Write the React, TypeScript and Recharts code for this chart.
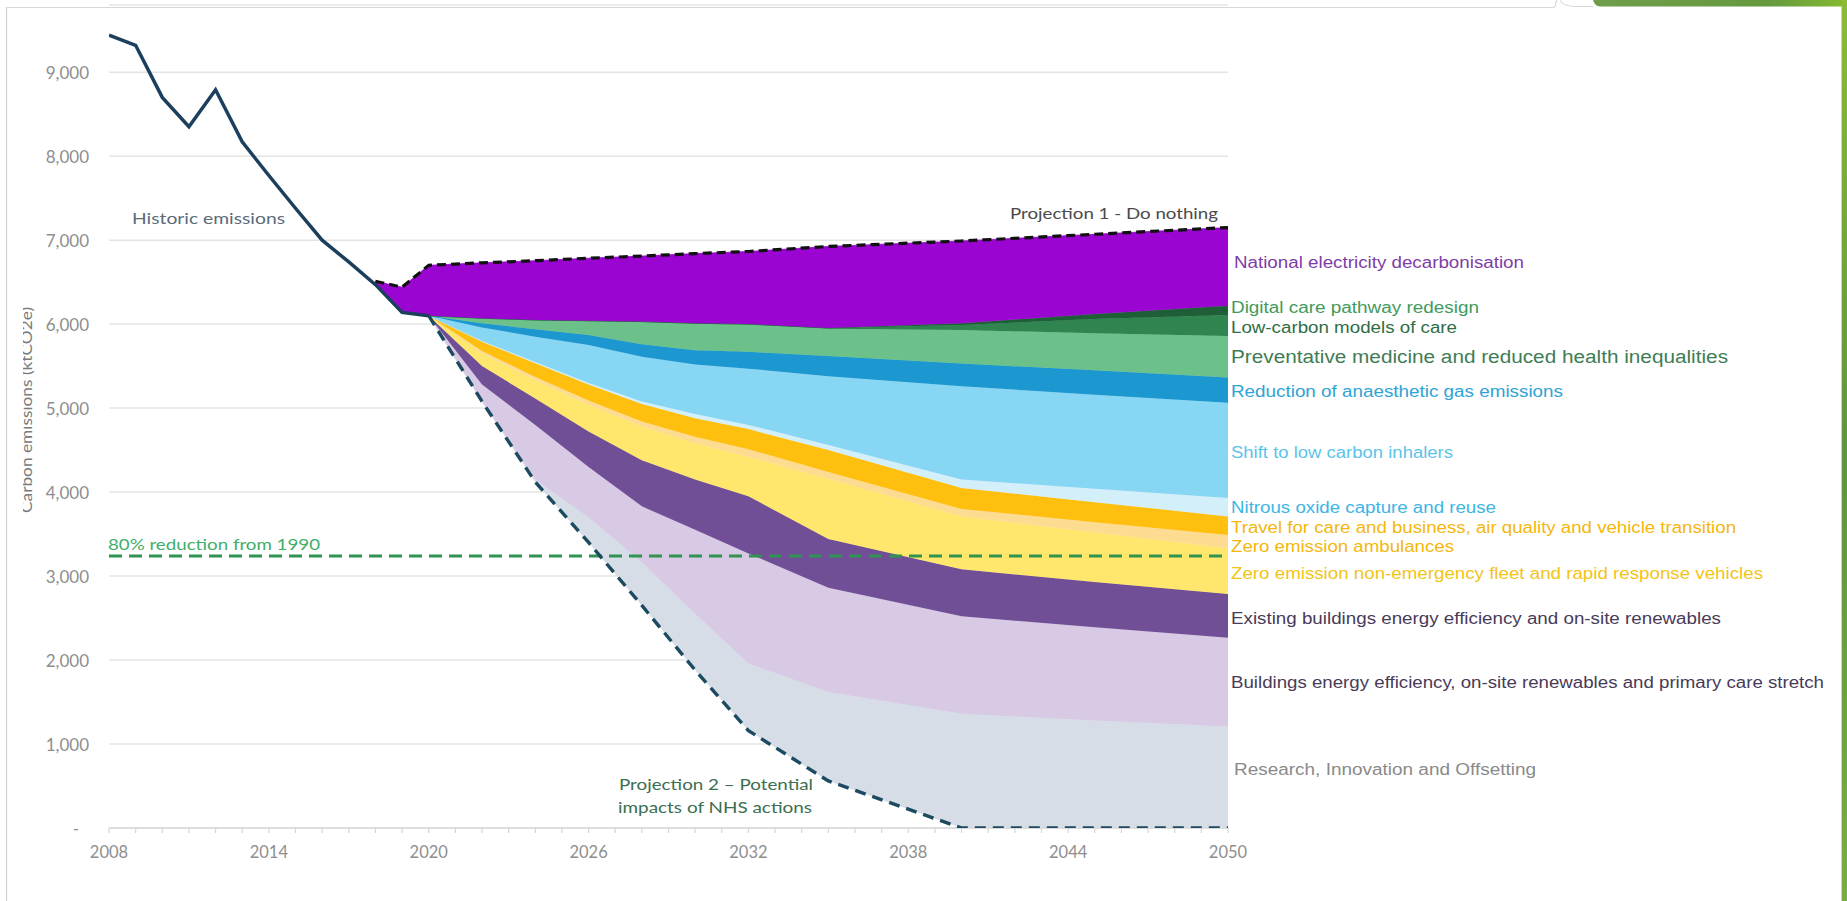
import React from "react";
import {
  ComposedChart,
  Area,
  Line,
  XAxis,
  YAxis,
  CartesianGrid,
  ReferenceLine,
} from "recharts";

// ---------- data (ktCO2e) ----------
const historicYears = [2008, 2009, 2010, 2011, 2012, 2013, 2014, 2015, 2016, 2017, 2018, 2019, 2020];
const historicValues = [9440, 9320, 8700, 8350, 8790, 8170, 7770, 7380, 7000, 6740, 6470, 6140, 6100];

const projYears = [2018, 2019, 2020, 2022, 2024, 2026, 2028, 2030, 2032, 2035, 2040, 2045, 2050];
const projection1 = [6510, 6440, 6700, 6730, 6755, 6785, 6810, 6840, 6865, 6925, 6990, 7070, 7150];
const projection2 = [null, null, 6100, 5080, 4120, 3400, 2650, 1880, 1160, 560, 0, 0, 0];
const stackBase = [6470, 6140, 6100, 5080, 4120, 3400, 2650, 1880, 1160, 560, 0, 0, 0];

const research = [0, 0, 0, 0, 30, 300, 510, 670, 800, 1060, 1360, 1280, 1210];
const buildingsStretch = [0, 0, 0, 200, 650, 600, 670, 1000, 1310, 1240, 1160, 1110, 1055];
const existingBuildings = [0, 0, 0, 220, 315, 420, 550, 600, 680, 580, 560, 540, 520];
const zeFleet = [0, 0, 0, 150, 215, 320, 400, 430, 470, 715, 630, 590, 545];
const zeAmbulances = [0, 0, 0, 30, 40, 50, 60, 80, 90, 85, 90, 120, 160];
const travel = [0, 0, 0, 110, 165, 190, 210, 220, 240, 260, 250, 240, 220];
const nitrous = [0, 0, 0, 10, 15, 20, 30, 50, 50, 60, 100, 160, 220];
const inhalers = [0, 0, 0, 160, 300, 450, 530, 590, 670, 820, 1110, 1120, 1135];
const anaesthetic = [0, 0, 0, 50, 90, 120, 150, 170, 200, 240, 270, 290, 300];
const preventative = [0, 0, 0, 60, 110, 170, 270, 320, 330, 325, 400, 440, 495];
const lowCarbon = [0, 0, 0, 0, 0, 0, 0, 0, 0, 10, 60, 170, 250];
const digitalCare = [0, 0, 0, 0, 0, 0, 0, 0, 0, 0, 20, 60, 110];
const electricity = [40, 300, 600, 660, 705, 745, 780, 830, 865, 970, 980, 950, 930];

const reductionTarget = 3240;

const yTicks = [0, 1000, 2000, 3000, 4000, 5000, 6000, 7000, 8000, 9000];
const labelYears = [2008, 2014, 2020, 2026, 2032, 2038, 2044, 2050];
const minorYears = Array.from({ length: 43 }, (_, i) => 2008 + i);

// ---------- series definitions (bottom to top) ----------
const bands = [
  { key: "research", values: research, fill: "#d6dde7" },
  { key: "buildingsStretch", values: buildingsStretch, fill: "#d8c9e4" },
  { key: "existingBuildings", values: existingBuildings, fill: "#704f97" },
  { key: "zeFleet", values: zeFleet, fill: "#ffe76e" },
  { key: "zeAmbulances", values: zeAmbulances, fill: "#fddc92" },
  { key: "travel", values: travel, fill: "#ffbf0f" },
  { key: "nitrous", values: nitrous, fill: "#d3effa" },
  { key: "inhalers", values: inhalers, fill: "#86d6f4" },
  { key: "anaesthetic", values: anaesthetic, fill: "#1d97cf" },
  { key: "preventative", values: preventative, fill: "#6cc18a" },
  { key: "lowCarbon", values: lowCarbon, fill: "#2f8450" },
  { key: "digitalCare", values: digitalCare, fill: "#1f5f38" },
  { key: "electricity", values: electricity, fill: "#9a05d2" },
];

const chartData = projYears.map((year, i) => {
  const row: Record<string, number | null> = {
    year,
    base: stackBase[i],
    proj1: projection1[i],
    proj2: projection2[i],
  };
  bands.forEach((b) => {
    row[b.key] = b.values[i];
  });
  return row;
});

const historicData = historicYears.map((year, i) => ({ year, historic: historicValues[i] }));

const sideLabels = [
  { text: "National electricity decarbonisation", y: 262, x: 1234, w: 290, size: 16, color: "#7e3ca9" },
  { text: "Digital care pathway redesign", y: 307, x: 1231, w: 248, size: 16, color: "#3f9a5c" },
  { text: "Low-carbon models of care", y: 327, x: 1231, w: 226, size: 16, color: "#2f6d45" },
  { text: "Preventative medicine and reduced health inequalities", y: 357, x: 1231, w: 497, size: 18, color: "#3f7d55" },
  { text: "Reduction of anaesthetic gas emissions", y: 391, x: 1231, w: 332, size: 16, color: "#2ea4d6" },
  { text: "Shift to low carbon inhalers", y: 452, x: 1231, w: 222, size: 16, color: "#5cc3e8" },
  { text: "Nitrous oxide capture and reuse", y: 507, x: 1231, w: 265, size: 16, color: "#3cb5e5" },
  { text: "Travel for care and business, air quality and vehicle transition", y: 527, x: 1231, w: 505, size: 16, color: "#f4b70c" },
  { text: "Zero emission ambulances", y: 546, x: 1231, w: 223, size: 16, color: "#f4b70c" },
  { text: "Zero emission non-emergency fleet and rapid response vehicles", y: 573, x: 1231, w: 532, size: 16, color: "#f2c417" },
  { text: "Existing buildings energy efficiency and on-site renewables", y: 618, x: 1231, w: 490, size: 16, color: "#483b58" },
  { text: "Buildings energy efficiency, on-site renewables and primary care stretch", y: 682, x: 1231, w: 593, size: 16, color: "#483b58" },
  { text: "Research, Innovation and Offsetting", y: 769, x: 1234, w: 302, size: 16, color: "#8a8a8a" },
];

const tickFont = "Lato, 'Open Sans', sans-serif";
const labelFont = "'Liberation Sans', Arial, sans-serif";

function renderYTick(props: any) {
  const { y, payload } = props;
  const v = payload.value as number;
  const label = v === 0 ? "-" : v.toLocaleString("en-US");
  return (
    <text
      key={`yt-${v}`}
      x={v === 0 ? 79 : 89}
      y={y}
      textAnchor="end"
      dominantBaseline="central"
      fill="#8e8e8e"
      fontSize={17}
      fontFamily={tickFont}
    >
      {label}
    </text>
  );
}

function renderXTick(props: any) {
  const { x, y, payload } = props;
  const v = payload.value as number;
  if (!labelYears.includes(v)) return <g key={`xt-${v}`} />;
  return (
    <text key={`xt-${v}`} x={x} y={y} dy="0.71em" textAnchor="middle" fill="#8e8e8e" fontSize={16.5} fontFamily={tickFont}>
      {v}
    </text>
  );
}

export default function App() {
  return (
    <div
      style={{
        position: "absolute",
        left: 0,
        top: 0,
        width: 1847,
        height: 901,
        background: "#ffffff",
        overflow: "hidden",
      }}
    >
      {/* slide frame decoration */}
      <svg width={1847} height={901} style={{ position: "absolute", left: 0, top: 0 }}>
        <defs>
          <linearGradient id="sideGreen" x1="0" y1="0" x2="0" y2="1">
            <stop offset="0" stopColor="#8cbc36" />
            <stop offset="0.5" stopColor="#5f9440" />
            <stop offset="1" stopColor="#78ad45" />
          </linearGradient>
          <linearGradient id="topGreen" x1="0" y1="0" x2="1" y2="0">
            <stop offset="0" stopColor="#6f9d4c" />
            <stop offset="0.7" stopColor="#669a3e" />
            <stop offset="1" stopColor="#86bb2f" />
          </linearGradient>
        </defs>
        <line x1={6.5} y1={7} x2={6.5} y2={901} stroke="#d2d2d2" strokeWidth={1.2} />
        <path d="M6 7.5 H1553 Q1556 7 1556 2 L1557 0" fill="none" stroke="#d6d6d6" strokeWidth={1.2} />
        <path d="M1560 0 Q1562 6 1575 6.5 H1593" fill="none" stroke="#d6d6d6" strokeWidth={1} />
        <path d="M1593 0 Q1595 6.5 1600 6.5 H1847 V0 Z" fill="url(#topGreen)" />
        <rect x={1842} y={0} width={5} height={901} fill="url(#sideGreen)" />
        <line x1={1841.5} y1={6} x2={1841.5} y2={901} stroke="#cfcfcf" strokeWidth={1} />
      </svg>

      <div style={{ position: "absolute", left: 0, top: 0 }}>
        <ComposedChart
          width={1847}
          height={901}
          data={chartData}
          margin={{ top: 5, right: 619, bottom: 33, left: 29 }}
        >
          <CartesianGrid vertical={false} stroke="#e4e4e4" strokeWidth={1.5} />
          <XAxis
            dataKey="year"
            type="number"
            domain={[2008, 2050]}
            ticks={minorYears}
            interval={0}
            height={40}
            tick={renderXTick}
            tickSize={5}
            tickMargin={13}
            axisLine={false}
            tickLine={{ stroke: "#d6d6d6", strokeWidth: 1.2 }}
            allowDataOverflow
          />
          <YAxis
            type="number"
            domain={[0, 9800]}
            ticks={yTicks}
            width={80}
            axisLine={false}
            tickLine={false}
            tickSize={0}
            tickMargin={21}
            tick={renderYTick}
            allowDataOverflow
          />
          <ReferenceLine y={0} stroke="#d9d9d9" strokeWidth={1.5} />
          <Area
            type="linear"
            dataKey="base"
            stackId="s"
            stroke="none"
            fill="none"
            fillOpacity={0}
            isAnimationActive={false}
            dot={false}
            activeDot={false}
          />
          {bands.map((b) => (
            <Area
              key={b.key}
              type="linear"
              dataKey={b.key}
              stackId="s"
              stroke={b.fill}
              strokeWidth={0.8}
              fill={b.fill}
              fillOpacity={1}
              isAnimationActive={false}
              dot={false}
              activeDot={false}
            />
          ))}
          <ReferenceLine
            y={reductionTarget}
            stroke="#2f9352"
            strokeWidth={3}
            strokeDasharray="13 7"
          />
          <Line
            type="linear"
            data={historicData}
            dataKey="historic"
            stroke="#1b3f5c"
            strokeWidth={3.5}
            dot={false}
            activeDot={false}
            isAnimationActive={false}
          />
          <Line
            type="linear"
            dataKey="proj1"
            stroke="#111111"
            strokeWidth={3.2}
            strokeDasharray="9 5"
            dot={false}
            activeDot={false}
            isAnimationActive={false}
          />
          <Line
            type="linear"
            dataKey="proj2"
            stroke="#1c4a60"
            strokeWidth={3.4}
            strokeDasharray="11 7"
            dot={false}
            activeDot={false}
            isAnimationActive={false}
          />
        </ComposedChart>
      </div>

      {/* annotations */}
      <svg
        width={1847}
        height={901}
        style={{ position: "absolute", left: 0, top: 0, pointerEvents: "none" }}
      >
        <defs>
          <clipPath id="titleClip">
            <rect x={23} y={280} width={40} height={260} />
          </clipPath>
        </defs>
        <g clipPath="url(#titleClip)">
          <text
            x={0}
            y={0}
            transform="translate(26 410) rotate(-90)"
            textAnchor="middle"
            dominantBaseline="central"
            fontSize={15}
            fill="#7a7a7a"
            fontFamily={tickFont}
            textLength={206}
            lengthAdjust="spacingAndGlyphs"
          >
            Carbon emissions (ktCO2e)
          </text>
        </g>
        <text x={132} y={217} dominantBaseline="central" fontSize={16} fill="#5b6b7a" fontFamily={tickFont} textLength={153} lengthAdjust="spacingAndGlyphs">
          Historic emissions
        </text>
        <text x={1010} y={212} dominantBaseline="central" fontSize={16} fill="#4a4a4a" fontFamily={tickFont} textLength={208} lengthAdjust="spacingAndGlyphs">
          Projection 1 - Do nothing
        </text>
        <text x={108} y={543} dominantBaseline="central" fontSize={16} fill="#3fae6a" fontFamily={tickFont} textLength={212} lengthAdjust="spacingAndGlyphs">
          80% reduction from 1990
        </text>
        <text x={619} y={783} dominantBaseline="central" fontSize={16} fill="#3c6e50" fontFamily={tickFont} textLength={194} lengthAdjust="spacingAndGlyphs">
          Projection 2 – Potential
        </text>
        <text x={618} y={806} dominantBaseline="central" fontSize={16} fill="#3c6e50" fontFamily={tickFont} textLength={194} lengthAdjust="spacingAndGlyphs">
          impacts of NHS actions
        </text>
        {sideLabels.map((l) => (
          <text
            key={l.text}
            x={l.x}
            y={l.y}
            dominantBaseline="central"
            fontSize={l.size}
            fill={l.color}
            fontFamily={labelFont}
            textLength={l.w}
            lengthAdjust="spacingAndGlyphs"
          >
            {l.text}
          </text>
        ))}
      </svg>
    </div>
  );
}
